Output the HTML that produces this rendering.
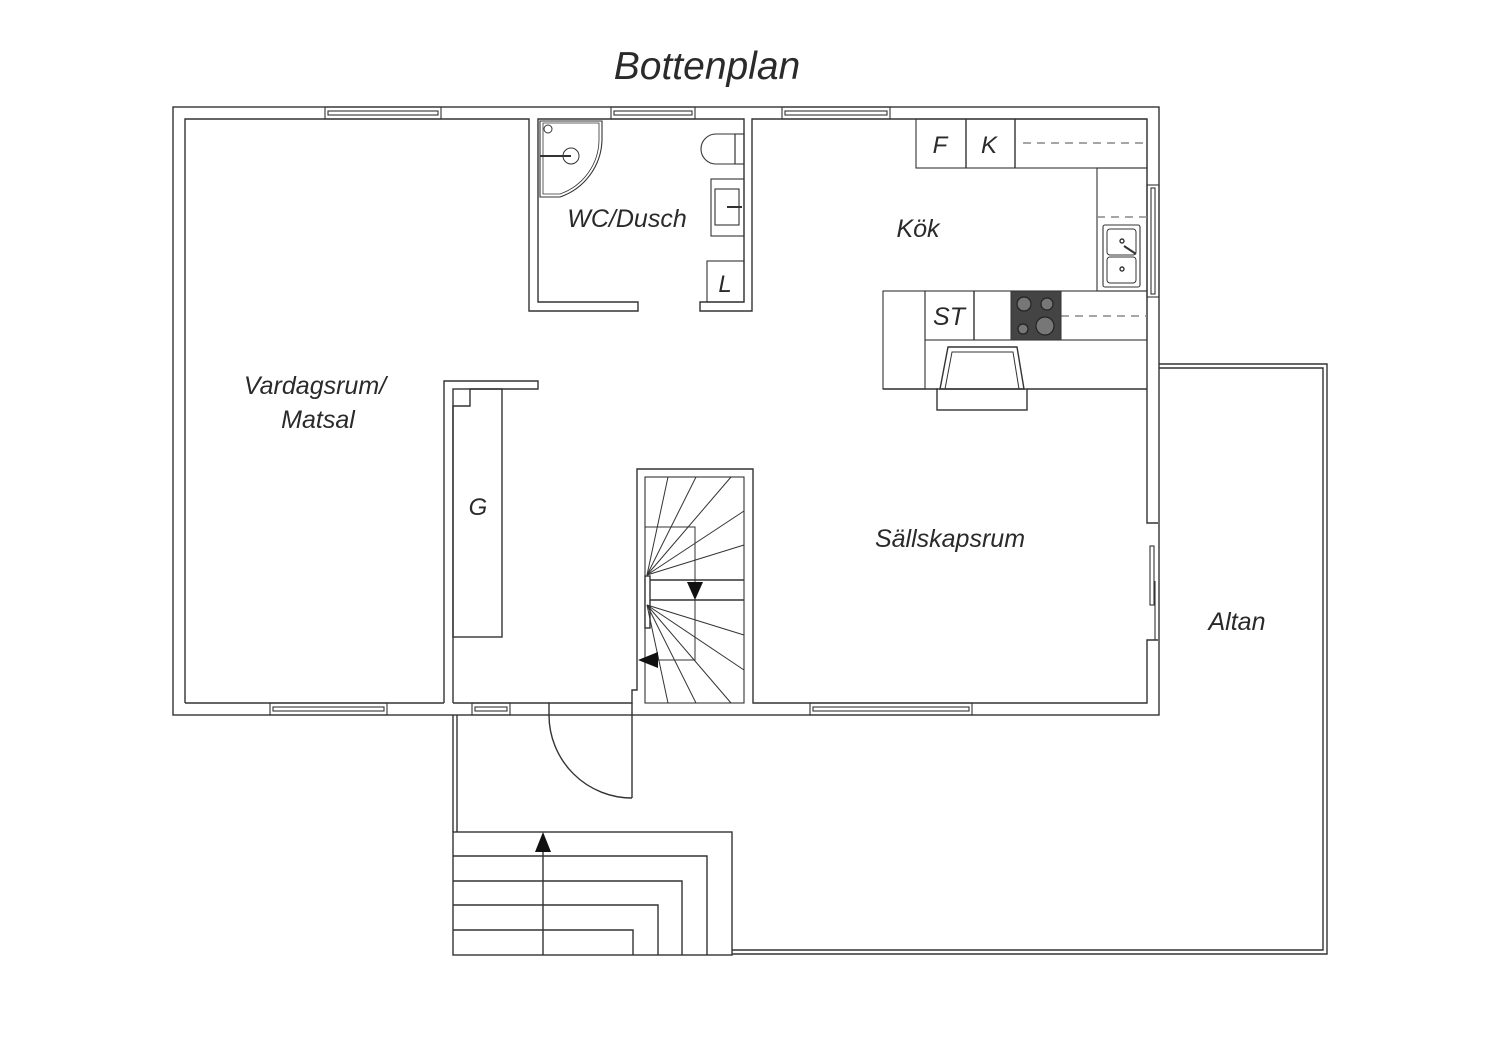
<!DOCTYPE html>
<html><head><meta charset="utf-8"><style>
html,body{margin:0;padding:0;background:#fff;width:1500px;height:1060px;overflow:hidden}
svg{display:block}
text{font-family:"Liberation Sans",sans-serif;font-style:italic;fill:#2a2a2a}
</style></head><body>
<svg width="1500" height="1060" viewBox="0 0 1500 1060" xmlns="http://www.w3.org/2000/svg">
<g fill="none" stroke="#333" stroke-width="1.4">
<rect x="173" y="107" width="986" height="608"/>
<polyline points="185,703 185,119 529,119 529,311 638,311 638,302 538,302 538,119 744,119 744,302 700,302 700,311 752,311 752,119 1147,119 1147,523 1158,523"/>
<polyline points="1158,640 1147,640 1147,703 753,703 753,469 637,469 637,690 632,690 632,703 549,703 549,715"/>
<polyline points="632,703 632,715"/>
<polyline points="444,703 185,703"/>
<polyline points="444,703 444,381 538,381 538,389 502,389"/>
<polyline points="453,703 453,406 470,406 470,389 502,389"/>
<polyline points="453,703 549,703"/>
<rect x="453" y="389" width="49" height="248"/>
<g stroke-width="1.1">
<rect x="325" y="107" width="116" height="12"/><rect x="328" y="111" width="110" height="4"/>
<rect x="611" y="107" width="84" height="12"/><rect x="614" y="111" width="78" height="4"/>
<rect x="782" y="107" width="108" height="12"/><rect x="785" y="111" width="102" height="4"/>
<rect x="270" y="703" width="117" height="12"/><rect x="273" y="707" width="111" height="4"/>
<rect x="472" y="703" width="38" height="12"/><rect x="475" y="707" width="32" height="4"/>
<rect x="810" y="703" width="162" height="12"/><rect x="813" y="707" width="156" height="4"/>
<rect x="1147" y="185" width="12" height="112"/><rect x="1151" y="188" width="4" height="106"/>
<rect x="1150" y="546" width="4" height="59"/>
<line x1="1155" y1="581" x2="1155" y2="640"/>
</g>
<path d="M540,121 L602,121 L602,140 A62,62 0 0 1 560,197 L540,197 Z" stroke-width="1.1"/>
<path d="M543,123 L599,123 L599,140 A58,58 0 0 1 560,194 L543,194 Z" stroke-width="0.8"/>
<circle cx="548" cy="129" r="4" stroke-width="1"/>
<circle cx="571" cy="156" r="8" stroke-width="1"/>
<line x1="540" y1="156" x2="571" y2="156" stroke-width="2"/>
<path d="M735,134 L716,134 A15,15 0 0 0 716,164 L735,164 Z" stroke-width="1.1"/>
<rect x="735" y="134" width="9" height="30" stroke-width="1.1"/>
<rect x="711" y="179" width="33" height="57" stroke-width="1.1"/>
<rect x="715" y="189" width="24" height="36" stroke-width="1.1"/>
<line x1="727" y1="207" x2="742" y2="207" stroke-width="2"/>
<rect x="707" y="261" width="37" height="41" stroke-width="1.1"/>
<rect x="916" y="119" width="231" height="49" stroke-width="1.1"/>
<line x1="966" y1="119" x2="966" y2="168"/><line x1="1015" y1="119" x2="1015" y2="168"/>
<line x1="1023" y1="143" x2="1147" y2="143" stroke="#888" stroke-dasharray="8,6"/>
<rect x="1097" y="168" width="50" height="123" stroke-width="1.1"/>
<line x1="1097" y1="217" x2="1147" y2="217" stroke="#888" stroke-dasharray="8,6"/>
<rect x="1103" y="225" width="37" height="62" rx="2" stroke-width="1.1"/>
<rect x="1107" y="229" width="29" height="26" rx="3" stroke-width="1"/>
<rect x="1107" y="257" width="29" height="26" rx="3" stroke-width="1"/>
<circle cx="1122" cy="241" r="2"/><circle cx="1122" cy="269" r="2"/>
<line x1="1124" y1="246" x2="1136" y2="254" stroke-width="2"/>
<rect x="925" y="291" width="222" height="49" stroke-width="1.1"/>
<line x1="974" y1="291" x2="974" y2="340"/>
<line x1="1061" y1="316" x2="1147" y2="316" stroke="#888" stroke-dasharray="8,6"/>
<rect x="883" y="291" width="42" height="98" stroke-width="1.1"/>
<polyline points="883,389 938,389"/>
<polyline points="1027,389 1147,389"/>
<rect x="937" y="389" width="90" height="21"/>
<polygon points="948,347 1017,347 1024,389 940,389"/>
<polygon points="952,352 1013,352 1019,389 945,389" stroke-width="1"/>
<rect x="645" y="477" width="99" height="226" stroke-width="1.1"/>
<rect x="645" y="527" width="50" height="133" stroke-width="1"/>
<line x1="650" y1="580" x2="744" y2="580"/><line x1="650" y1="600" x2="744" y2="600"/>
<rect x="645" y="576" width="5" height="52" fill="#fff"/>
<g stroke-width="1">
<line x1="647" y1="575" x2="668" y2="477"/><line x1="647" y1="575" x2="696" y2="477"/>
<line x1="647" y1="575" x2="731" y2="477"/><line x1="647" y1="575" x2="744" y2="511"/>
<line x1="647" y1="575" x2="744" y2="545"/>
<line x1="647" y1="605" x2="744" y2="635"/><line x1="647" y1="605" x2="744" y2="670"/>
<line x1="647" y1="605" x2="731" y2="703"/><line x1="647" y1="605" x2="696" y2="703"/>
<line x1="647" y1="605" x2="668" y2="703"/>
</g>
<line x1="632" y1="715" x2="632" y2="798"/>
<path d="M549,715 A83,83 0 0 0 632,798"/>
<polyline points="453,715 453,832"/><polyline points="457,715 457,832"/>
<polyline points="1159,364 1327,364 1327,954 732,954"/>
<polyline points="1159,368 1323,368 1323,950 732,950"/>
<rect x="453" y="832" width="279" height="123"/>
<polyline points="453,856 707,856 707,955"/>
<polyline points="453,881 682,881 682,955"/>
<polyline points="453,905 658,905 658,955"/>
<polyline points="453,930 633,930 633,955"/>
<line x1="543" y1="955" x2="543" y2="850"/>
</g>
<g fill="#111">
<polygon points="543,832 535,852 551,852"/>
<polygon points="695,600 687,582 703,582"/>
<polygon points="638,660 658,652 658,668"/>
</g>
<rect x="1011" y="291" width="50" height="49" fill="#444" stroke="#333"/>
<g fill="#777" stroke="#222" stroke-width="1.2">
<circle cx="1024" cy="304" r="7"/><circle cx="1047" cy="304" r="6"/>
<circle cx="1023" cy="329" r="5"/><circle cx="1045" cy="326" r="9"/>
</g>
<text x="707" y="79" font-size="39" text-anchor="middle">Bottenplan</text>
<text x="627" y="227" font-size="25" text-anchor="middle">WC/Dusch</text>
<text x="725" y="292" font-size="24" text-anchor="middle">L</text>
<text x="940" y="153" font-size="24" text-anchor="middle">F</text>
<text x="989" y="153" font-size="24" text-anchor="middle">K</text>
<text x="918" y="237" font-size="25" text-anchor="middle">Kök</text>
<text x="949" y="325" font-size="25" text-anchor="middle">ST</text>
<text x="315" y="394" font-size="25" text-anchor="middle">Vardagsrum/</text>
<text x="318" y="428" font-size="25" text-anchor="middle">Matsal</text>
<text x="478" y="515" font-size="24" text-anchor="middle">G</text>
<text x="950" y="547" font-size="25" text-anchor="middle">Sällskapsrum</text>
<text x="1237" y="630" font-size="25" text-anchor="middle">Altan</text>
</svg>
</body></html>
